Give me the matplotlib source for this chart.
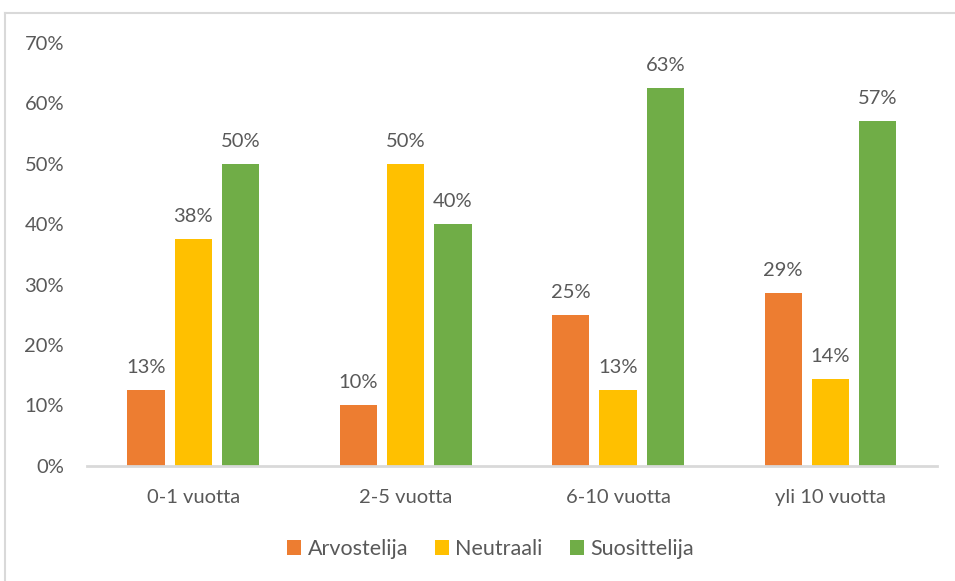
import matplotlib

matplotlib.use("Agg")
import matplotlib.pyplot as plt
import numpy as np
from matplotlib.lines import Line2D
from matplotlib.patches import Patch


CATEGORIES = ["0-1 vuotta", "2-5 vuotta", "6-10 vuotta", "yli 10 vuotta"]
SERIES = ["Arvostelija", "Neutraali", "Suosittelija"]

ARVOSTELIJA = [12.5, 10.0, 25.0, 28.57]
NEUTRAALI = [37.5, 50.0, 12.5, 14.29]
SUOSITTELIJA = [50.0, 40.0, 62.5, 57.14]

COLORS = ["#ED7D31", "#FFC000", "#70AD47"]
TEXT_COLOR = "#595959"
LINE_COLOR = "#D9D9D9"

plt.rcParams["font.family"] = ["Lato", "DejaVu Sans"]


def percent_label(value):
    """Round half up, the way spreadsheet labels do."""
    return f"{int(np.floor(value + 0.5))}%"


figure = plt.figure(figsize=(9.55, 5.81), dpi=100)
axis = figure.add_axes([0.0911, 0.1985, 0.8897, 0.7275])

x = np.arange(len(CATEGORIES))
step = 0.2225
width = 0.176

for offset, values, color in zip(
    (-step, 0.0, step),
    (ARVOSTELIJA, NEUTRAALI, SUOSITTELIJA),
    COLORS,
):
    bars = axis.bar(x + offset, values, width=width, color=color, zorder=2)

    for bar, value in zip(bars, values):
        axis.annotate(
            percent_label(value),
            (bar.get_x() + bar.get_width() / 2, bar.get_height()),
            xytext=(0, 10),
            textcoords="offset points",
            ha="center",
            va="bottom",
            fontsize=14.5,
            color=TEXT_COLOR,
        )

axis.set_xlim(-0.5, len(CATEGORIES) - 0.5)
axis.set_ylim(0, 70)
axis.set_yticks(np.arange(0, 71, 10))
axis.set_yticklabels([f"{tick}%" for tick in range(0, 71, 10)])
axis.set_xticks(x)
axis.set_xticklabels(CATEGORIES)

axis.tick_params(axis="y", length=0, pad=16.5, labelsize=14.5, labelcolor=TEXT_COLOR)
axis.tick_params(axis="x", length=0, pad=17, labelsize=14.5, labelcolor=TEXT_COLOR)

for side in ("top", "right", "left"):
    axis.spines[side].set_visible(False)

axis.spines["bottom"].set_color(LINE_COLOR)
axis.spines["bottom"].set_linewidth(2)
axis.spines["bottom"].set_zorder(3)

handles = [Patch(facecolor=color, edgecolor="none") for color in COLORS]
figure.legend(
    handles,
    SERIES,
    loc="center",
    bbox_to_anchor=(0.5136, 1 - 549 / 581),
    ncol=3,
    frameon=False,
    fontsize=15.5,
    labelcolor=TEXT_COLOR,
    handlelength=0.65,
    handleheight=0.65,
    handletextpad=0.3,
    columnspacing=1.25,
)

# Chart area outline (only the top and left edges fall inside the image)
figure.add_artist(
    Line2D([5 / 955, 1.0], [1 - 13 / 581, 1 - 13 / 581],
           transform=figure.transFigure, color=LINE_COLOR, linewidth=1.5)
)
figure.add_artist(
    Line2D([5 / 955, 5 / 955], [0.0, 1 - 13 / 581],
           transform=figure.transFigure, color=LINE_COLOR, linewidth=1.5)
)

figure.savefig("out.png", dpi=100)
plt.close(figure)
